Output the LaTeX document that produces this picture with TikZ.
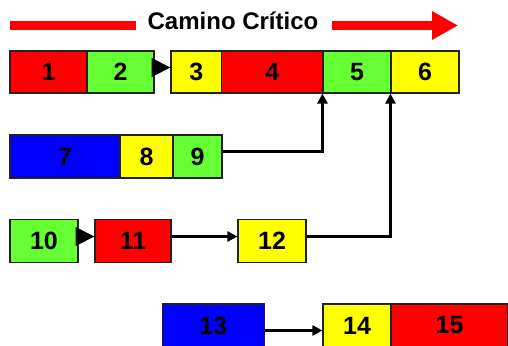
\documentclass[tikz,border=0pt]{standalone}
\usepackage{fontspec}
\setmainfont{Liberation Sans}
\usetikzlibrary{arrows.meta}
\definecolor{cred}{HTML}{FF0000}
\definecolor{cgreen}{HTML}{66FF33}
\definecolor{cyellow}{HTML}{FFFF00}
\definecolor{cblue}{HTML}{0000FF}
\definecolor{cborder}{HTML}{222222}
\tikzset{
  box/.style={draw=cborder, line width=1.1pt, inner sep=0pt, font=\fontsize{25}{25}\selectfont\bfseries},
  conn/.style={line width=2.8pt, -{Triangle[length=10pt,width=10pt]}},
  bar/.style={draw=cred, line width=9pt},
}
\newcommand{\bx}[7]{% name, x1, x2, y1, y2, color, text
  \node[box, fill=#6, minimum width=#3pt-#2pt, minimum height=#5pt-#4pt] (#1) at ({(#2+#3)/2},{(#4+#5)/2}) {#7};}
\begin{document}
\begin{tikzpicture}[x=1pt,y=-1pt]
\useasboundingbox (0,0) rectangle (508,345);
% title
\node[font=\fontsize{24}{24}\selectfont\bfseries, inner sep=0pt] (title) at (233,21) {Camino Crítico};
\coordinate (bl) at (10,25.5);
\coordinate (br) at (458,25.5);
\draw[bar] (bl) -- ([xshift=-11pt]title.west |- bl);
\draw[bar, -{Triangle[length=26pt,width=27pt]}] ([xshift=13pt]title.east |- br) -- (br);
% row 1
\bx{n1}{10}{87}{51}{93}{cred}{1}
\bx{n2}{87}{154}{51}{93}{cgreen}{2}
\bx{n3}{171}{221.7}{51}{93}{cyellow}{3}
\bx{n4}{221.7}{323}{51}{93}{cred}{4}
\bx{n5}{323}{391}{51}{93}{cgreen}{5}
\bx{n6}{391}{459}{51}{93}{cyellow}{6}
% row 2
\bx{n7}{10}{120}{135}{178}{cblue}{7}
\bx{n8}{120}{173}{135}{178}{cyellow}{8}
\bx{n9}{173}{222}{135}{178}{cgreen}{9}
% row 3
\bx{n10}{10}{78}{219.5}{262.5}{cgreen}{10}
\bx{n11}{95}{171}{219.5}{262.5}{cred}{11}
\bx{n12}{238}{306}{219.5}{262.5}{cyellow}{12}
% row 4
\bx{n13}{162.3}{264.3}{304}{347}{cblue}{13}
\bx{n14}{323}{391}{304}{347}{cyellow}{14}
\bx{n15}{391}{508}{304}{347}{cred}{15}
% big triangles
\fill ([xshift=-3pt,yshift=14pt]n2.east) -- ([yshift=4.5pt]n3.west) -- ([xshift=-3pt,yshift=-5pt]n2.east) -- cycle;
\fill ([xshift=-3pt,yshift=14pt]n10.east) -- ([yshift=4.5pt]n11.west) -- ([xshift=-3pt,yshift=-5pt]n10.east) -- cycle;
% connectors
\draw[conn] ([yshift=5pt]n9.east) -| (n5.south west);
\draw[conn] ([yshift=4.5pt]n12.east) -| (n6.south west);
\draw[conn] ([yshift=4.5pt]n11.east) -- ([yshift=4.5pt]n12.west);
\draw[conn] ([yshift=-5pt]n13.east) -- ([yshift=-5pt]n14.west);
\end{tikzpicture}
\end{document}
